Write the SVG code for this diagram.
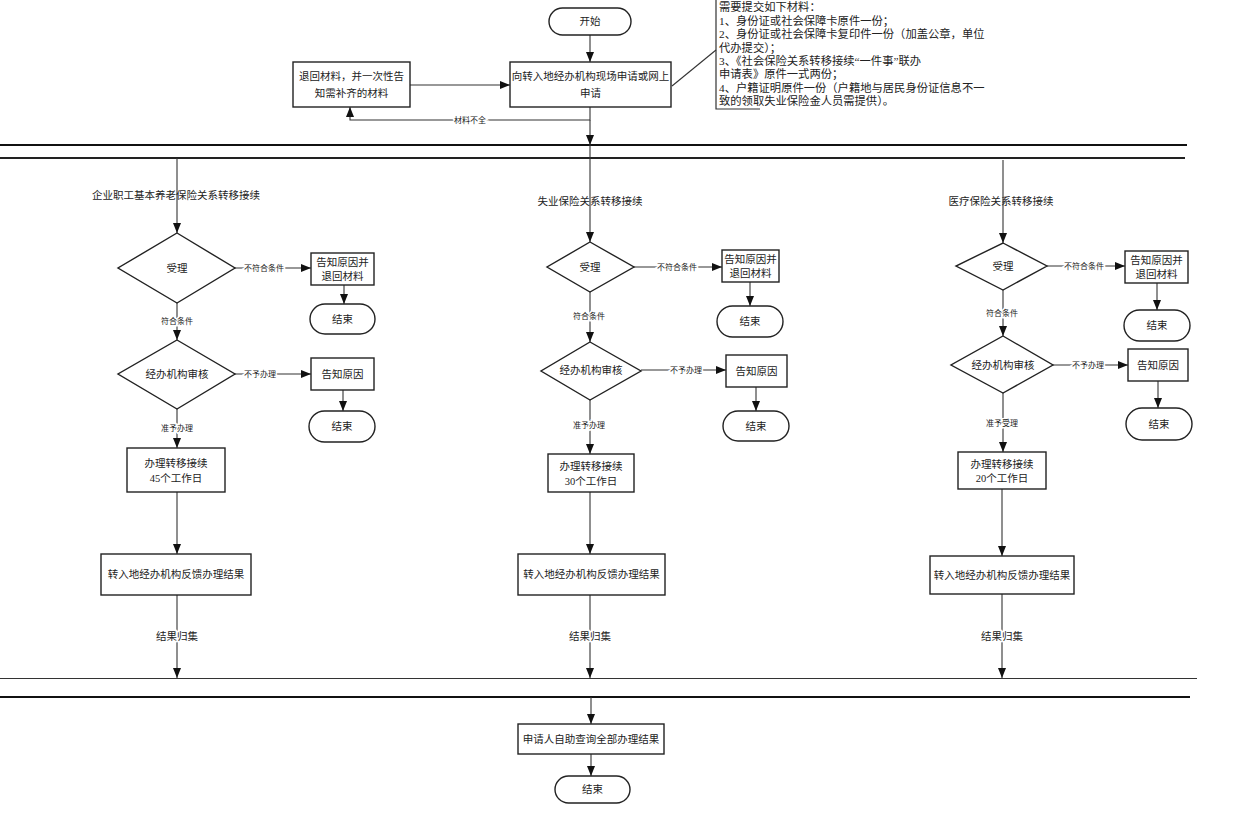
<svg xmlns="http://www.w3.org/2000/svg" width="1247" height="813" viewBox="0 0 1247 813">
<defs>
<marker id="ah" markerUnits="userSpaceOnUse" markerWidth="10" markerHeight="8" refX="10" refY="4" orient="auto"><path d="M0,0 L10,4 L0,8 z" fill="#111"/></marker>
<style>
text{font-family:"Liberation Serif","Noto Sans CJK SC",serif;fill:#222;font-size:10.5px;text-anchor:middle;dominant-baseline:central}
.box{fill:#fff;stroke:#222;stroke-width:1.4}
.ln{fill:none;stroke:#333;stroke-width:1.1}
.ar{fill:none;stroke:#333;stroke-width:1.1;marker-end:url(#ah)}
.lbl{font-size:8px;paint-order:stroke;stroke:#fff;stroke-width:3px}
.note{text-anchor:start;font-size:11.3px}
</style>
</defs>
<rect width="1247" height="813" fill="#fff"/>
<g id="separators">
<line x1="0" y1="145" x2="1187" y2="145" stroke="#111" stroke-width="2"/>
<line x1="0" y1="158" x2="1185" y2="158" stroke="#222" stroke-width="2"/>
<line x1="0" y1="678.5" x2="1197" y2="678.5" stroke="#333" stroke-width="1.2"/>
<line x1="0" y1="697" x2="1190" y2="697" stroke="#111" stroke-width="2"/>
</g>
<g id="connectors">
<line class="ar" x1="590" y1="35" x2="590" y2="62"/>
<line class="ar" x1="410" y1="85" x2="510" y2="85"/>
<polyline class="ar" points="590,107 590,120 350,120 350,107"/>
<text class="lbl" x="470" y="120">材料不全</text>
<line class="ar" x1="590" y1="120" x2="590" y2="145"/>
<line class="ln" x1="672" y1="86" x2="716" y2="50" stroke="#555"/>
<!-- left column -->
<line class="ar" x1="177" y1="158" x2="177" y2="233"/>
<line class="ar" x1="235" y1="268" x2="311" y2="268"/>
<text class="lbl" x="264" y="268">不符合条件</text>
<line class="ar" x1="344" y1="285" x2="344" y2="304"/>
<line class="ar" x1="177" y1="303" x2="177" y2="340"/>
<text class="lbl" x="177" y="321">符合条件</text>
<line class="ar" x1="235" y1="374" x2="311" y2="374"/>
<text class="lbl" x="260" y="374">不予办理</text>
<line class="ar" x1="343" y1="390" x2="343" y2="411"/>
<line class="ar" x1="177" y1="409" x2="177" y2="448"/>
<text class="lbl" x="177" y="428">准予办理</text>
<line class="ar" x1="177" y1="492" x2="177" y2="554"/>
<line class="ar" x1="177" y1="595" x2="177" y2="678"/>
<text x="177" y="636" font-size="9.5px" style="paint-order:stroke;stroke:#fff;stroke-width:3px">结果归集</text>
<!-- middle column -->
<line class="ar" x1="590" y1="145" x2="590" y2="242"/>
<line class="ar" x1="634" y1="267" x2="722" y2="267"/>
<text class="lbl" x="677" y="267">不符合条件</text>
<line class="ar" x1="750" y1="282" x2="750" y2="306"/>
<line class="ar" x1="590" y1="292" x2="590" y2="342"/>
<text class="lbl" x="589" y="316">符合条件</text>
<line class="ar" x1="641" y1="370" x2="726" y2="370"/>
<text class="lbl" x="686" y="370">不予办理</text>
<line class="ar" x1="756" y1="387" x2="756" y2="411"/>
<line class="ar" x1="590" y1="400" x2="590" y2="454"/>
<text class="lbl" x="589" y="425">准予办理</text>
<line class="ar" x1="590" y1="492" x2="590" y2="554"/>
<line class="ar" x1="590" y1="595" x2="590" y2="678"/>
<text x="590" y="636" font-size="9.5px" style="paint-order:stroke;stroke:#fff;stroke-width:3px">结果归集</text>
<!-- right column -->
<line class="ar" x1="1003" y1="160" x2="1003" y2="243"/>
<line class="ar" x1="1047" y1="266" x2="1125" y2="266"/>
<text class="lbl" x="1084" y="266">不符合条件</text>
<line class="ar" x1="1157" y1="283" x2="1157" y2="310"/>
<line class="ar" x1="1003" y1="290" x2="1003" y2="336"/>
<text class="lbl" x="1002" y="313">符合条件</text>
<line class="ar" x1="1053" y1="365" x2="1128" y2="365"/>
<text class="lbl" x="1088" y="365">不予办理</text>
<line class="ar" x1="1158" y1="381" x2="1158" y2="408"/>
<line class="ar" x1="1003" y1="393" x2="1003" y2="452"/>
<text class="lbl" x="1002" y="423">准予受理</text>
<line class="ar" x1="1002" y1="489" x2="1002" y2="556"/>
<line class="ar" x1="1002" y1="594" x2="1002" y2="678"/>
<text x="1002" y="636" font-size="9.5px" style="paint-order:stroke;stroke:#fff;stroke-width:3px">结果归集</text>
<!-- bottom -->
<line class="ar" x1="591" y1="697" x2="591" y2="724"/>
<line class="ar" x1="591" y1="754" x2="591" y2="776"/>
</g>
<g id="start"><rect class="box" x="549" y="8" width="82" height="27" rx="13.5"/><text x="590" y="21.5">开始</text></g>
<g id="apply"><rect class="box" x="510" y="62" width="161" height="45"/><text x="590.5" y="76">向转入地经办机构现场申请或网上</text><text x="590.5" y="93">申请</text></g>
<g id="return"><rect class="box" x="293" y="62" width="117" height="45"/><text x="351.5" y="76">退回材料，并一次性告</text><text x="351.5" y="93">知需补齐的材料</text></g>
<g id="note">
<path d="M760,109 L716,109 L716,0" fill="none" stroke="#333" stroke-width="1.2"/>
<text class="note" x="719" y="7">需要提交如下材料：</text>
<text class="note" x="719" y="21">1、身份证或社会保障卡原件一份；</text>
<text class="note" x="719" y="34">2、身份证或社会保障卡复印件一份（加盖公章，单位</text>
<text class="note" x="719" y="48">代办提交）；</text>
<text class="note" x="719" y="61">3、《社会保险关系转移接续“一件事”联办</text>
<text class="note" x="719" y="74">申请表》原件一式两份；</text>
<text class="note" x="719" y="88">4、户籍证明原件一份（户籍地与居民身份证信息不一</text>
<text class="note" x="719" y="101">致的领取失业保险金人员需提供）。</text>
</g>
<!-- left column nodes -->
<g id="l-title"><text x="176" y="195">企业职工基本养老保险关系转移接续</text></g>
<g id="l-accept"><polygon class="box" points="177,233 235,268 177,303 118,268"/><text x="177" y="268">受理</text></g>
<g id="l-reject1"><rect class="box" x="311" y="253" width="63" height="32"/><text x="342.5" y="262">告知原因并</text><text x="342.5" y="276">退回材料</text></g>
<g id="l-end1"><rect class="box" x="310" y="304" width="65" height="30" rx="15"/><text x="342.5" y="319">结束</text></g>
<g id="l-review"><polygon class="box" points="177,340 235,374 177,409 118,374"/><text x="177" y="374">经办机构审核</text></g>
<g id="l-reject2"><rect class="box" x="311" y="358" width="63" height="32"/><text x="342.5" y="374">告知原因</text></g>
<g id="l-end2"><rect class="box" x="309" y="411" width="66" height="31" rx="15.5"/><text x="342" y="426.5">结束</text></g>
<g id="l-proc"><rect class="box" x="127" y="448" width="98" height="44"/><text x="176" y="463">办理转移接续</text><text x="176" y="478">45个工作日</text></g>
<g id="l-feedback"><rect class="box" x="101" y="554" width="150" height="41"/><text x="176" y="574.5">转入地经办机构反馈办理结果</text></g>
<!-- middle column nodes -->
<g id="m-title"><text x="590" y="201">失业保险关系转移接续</text></g>
<g id="m-accept"><polygon class="box" points="590,242 634,267 590,292 547,267"/><text x="590" y="267">受理</text></g>
<g id="m-reject1"><rect class="box" x="722" y="250" width="57" height="32"/><text x="750.5" y="259">告知原因并</text><text x="750.5" y="273">退回材料</text></g>
<g id="m-end1"><rect class="box" x="717" y="306" width="66" height="31" rx="15.5"/><text x="750" y="321.5">结束</text></g>
<g id="m-review"><polygon class="box" points="590,342 641,371 590,400 541,371"/><text x="591" y="370">经办机构审核</text></g>
<g id="m-reject2"><rect class="box" x="726" y="355" width="61" height="32"/><text x="756.5" y="371">告知原因</text></g>
<g id="m-end2"><rect class="box" x="723" y="411" width="66" height="30" rx="15"/><text x="756" y="426">结束</text></g>
<g id="m-proc"><rect class="box" x="548" y="454" width="86" height="38"/><text x="591" y="466">办理转移接续</text><text x="591" y="481">30个工作日</text></g>
<g id="m-feedback"><rect class="box" x="518" y="554" width="147" height="41"/><text x="591.5" y="574.5">转入地经办机构反馈办理结果</text></g>
<!-- right column nodes -->
<g id="r-title"><text x="1001" y="201">医疗保险关系转移接续</text></g>
<g id="r-accept"><polygon class="box" points="1003,243 1047,266 1003,290 956,266"/><text x="1003" y="266">受理</text></g>
<g id="r-reject1"><rect class="box" x="1125" y="251" width="63" height="32"/><text x="1156.5" y="260">告知原因并</text><text x="1156.5" y="274">退回材料</text></g>
<g id="r-end1"><rect class="box" x="1124" y="310" width="66" height="31" rx="15.5"/><text x="1157" y="325.5">结束</text></g>
<g id="r-review"><polygon class="box" points="1003,336 1053,365 1003,393 951,365"/><text x="1003" y="365">经办机构审核</text></g>
<g id="r-reject2"><rect class="box" x="1128" y="349" width="60" height="32"/><text x="1158" y="365">告知原因</text></g>
<g id="r-end2"><rect class="box" x="1126" y="408" width="66" height="32" rx="16"/><text x="1159" y="424">结束</text></g>
<g id="r-proc"><rect class="box" x="958" y="452" width="88" height="37"/><text x="1002" y="464">办理转移接续</text><text x="1002" y="478">20个工作日</text></g>
<g id="r-feedback"><rect class="box" x="930" y="556" width="144" height="38"/><text x="1002" y="575">转入地经办机构反馈办理结果</text></g>
<!-- bottom -->
<g id="query"><rect class="box" x="518" y="724" width="146" height="30"/><text x="591" y="739">申请人自助查询全部办理结果</text></g>
<g id="end-final"><rect class="box" x="555" y="776" width="75" height="27" rx="13.5"/><text x="592.5" y="789.5">结束</text></g>
</svg>
